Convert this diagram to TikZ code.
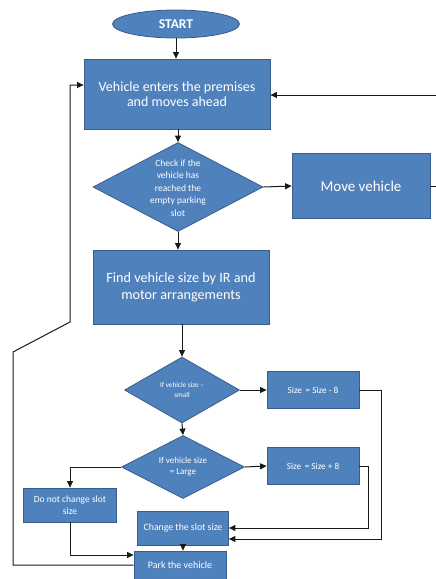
\documentclass[tikz,border=0pt]{standalone}
\usepackage{fontspec}
\setmainfont{Carlito}
\usetikzlibrary{shapes.geometric,arrows.meta,calc}
\definecolor{boxblue}{HTML}{4F81BD}
\definecolor{boxedge}{HTML}{385D8A}
\tikzset{
  x=1pt,y=-1pt,
  blk/.style={rectangle,fill=boxblue,draw=boxedge,line width=0.8pt,text=white,align=center,inner sep=2pt},
  dia/.style={diamond,fill=boxblue,draw=boxedge,line width=0.8pt,inner sep=0pt},
  dtext/.style={text=white,align=center,inner sep=0pt},
  oval/.style={ellipse,fill=boxblue,draw=boxedge,line width=0.8pt,text=white,inner sep=0pt},
  arr/.style={draw=black!90,line width=1pt,-{Triangle[length=6.5pt,width=6pt]}},
  ln/.style={draw=black!90,line width=1pt},
}
\begin{document}
\begin{tikzpicture}
\useasboundingbox (0,0) rectangle (436,579);
% nodes
\node[oval,minimum width=127,minimum height=28,font=\fontsize{13.5}{15}\selectfont\bfseries] (start) at (176,24) {START};
\node[blk,minimum width=186,minimum height=70,font=\fontsize{14}{15.5}\selectfont] (veh) at (177,94) {Vehicle enters the premises\\and moves ahead};
\node[dia,minimum width=170,minimum height=89] (d1) at (178,187) {};
\node[dtext,font=\fontsize{9.5}{12.6}\selectfont] (d1t) at (178,188) {Check if the\\vehicle has\\reached the\\empty parking\\slot};
\node[blk,minimum width=138,minimum height=65,font=\fontsize{15}{17}\selectfont] (move) at (361,186) {Move vehicle};
\node[blk,minimum width=176,minimum height=74,font=\fontsize{14.2}{17}\selectfont] (find) at (181,287) {Find vehicle size by IR and\\motor arrangements};
\node[dia,minimum width=115,minimum height=66] (d2) at (182,390) {};
\node[dtext,font=\fontsize{7.2}{10}\selectfont] (d2t) at (182,390) {If vehicle size --\\small};
\node[blk,minimum width=92,minimum height=37,font=\fontsize{9.2}{11}\selectfont] (sm) at (313,390) {Size \,= Size - 8};
\node[dia,minimum width=123,minimum height=63] (d3) at (183,467) {};
\node[dtext,font=\fontsize{9}{11}\selectfont] (d3t) at (183,467) {If vehicle size\\= Large};
\node[blk,minimum width=92,minimum height=37,font=\fontsize{9.2}{11}\selectfont] (lg) at (313,466) {Size \,= Size + 8};
\node[blk,minimum width=93,minimum height=34,font=\fontsize{9.5}{12}\selectfont] (nc) at (70,505) {Do not change slot\\size};
\node[blk,minimum width=91,minimum height=34,font=\fontsize{9.8}{11}\selectfont] (chg) at (183,528) {Change the slot size};
\node[blk,minimum width=92,minimum height=28,font=\fontsize{10}{12}\selectfont] (park) at (180,565) {Park the vehicle};
% helper coordinates
\coordinate (r1) at (436,95);
\coordinate (l1) at (13,566);
\coordinate (l2) at (13,352);
\coordinate (l3) at (70,322);
\coordinate (l4) at (70,85);
\coordinate (s1) at (381,390);
\coordinate (s2) at (368,466);
% connectors
\draw[arr] (start.south) -- (start.south |- veh.north);
\draw[arr] (veh.south -| d1.north) -- (d1.north);
\draw[arr] (d1.east) -- (move.west);
\draw[ln] (move.east) -| (r1);
\draw[arr] (r1) -- (veh.east |- r1);
\draw[arr] (d1.south) -- (d1.south |- find.north);
\draw[arr] (find.south -| d2.north) -- (d2.north);
\draw[arr] (d2.east) -- (sm.west);
\draw[arr] (d2.south) -- (d3.north);
\draw[arr] (d3.east) -- (lg.west);
\draw[arr] (d3.west) -| (nc.north);
\draw[arr] (nc.south) |- ($(park.west)+(0,-10)$);
\draw[arr] (lg.east) -- (s2) |- (chg.east);
\draw[arr] (sm.east) -- (s1) |- ($(chg.east)+(0,11)$);
\draw[arr] (chg.south) -- (chg.south |- park.north);
\draw[arr] (park.west) -- (l1 |- park.west) -- (l2) -- (l3) -- (l4) -- (veh.west |- l4);
\end{tikzpicture}
\end{document}
